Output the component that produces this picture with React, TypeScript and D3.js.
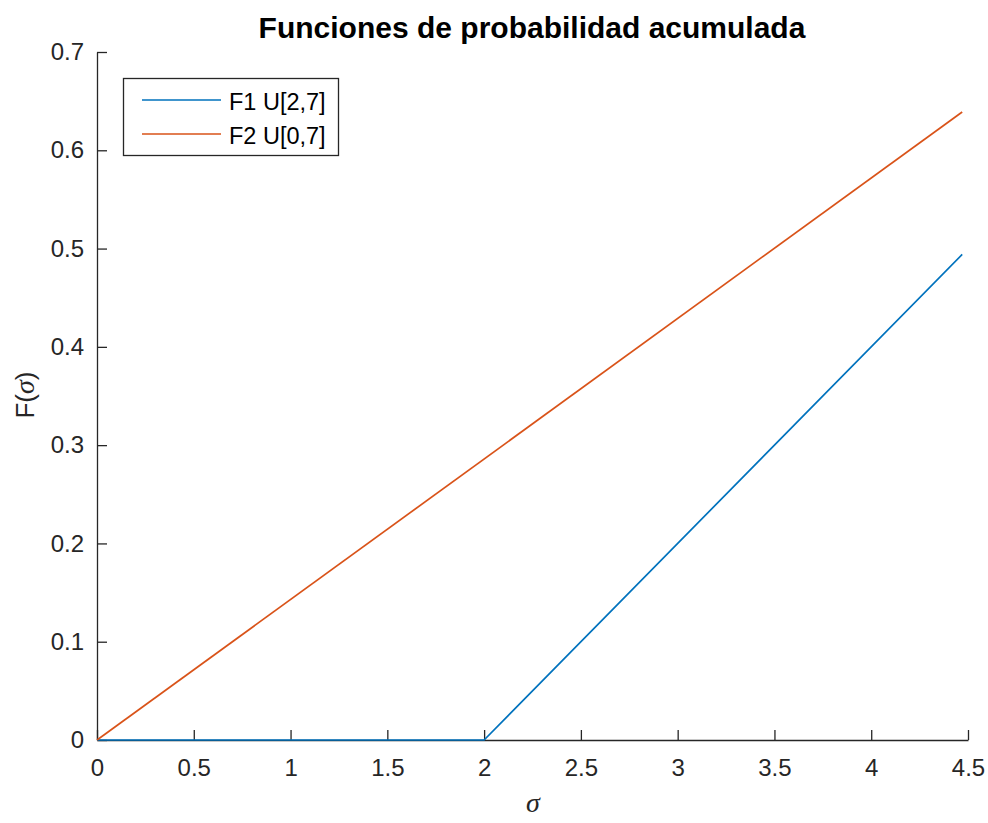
import React, { useEffect, useRef } from 'react';
import * as d3 from 'd3';

// data
const f1X = [0, 2, 4.47];
const f1Y = [0, 0, 0.494];
const f2X = [0, 4.47];
const f2Y = [0, 0.639];
const seriesNames = ['F1 U[2,7]', 'F2 U[0,7]'];
const seriesColors = ['#0072BD', '#D95319'];
const xTicks = [0, 0.5, 1, 1.5, 2, 2.5, 3, 3.5, 4, 4.5];
const yTicks = [0, 0.1, 0.2, 0.3, 0.4, 0.5, 0.6, 0.7];

const W = 988, H = 823;
const FONT = '"Liberation Sans", Arial, Helvetica, sans-serif';
const SERIF = '"Liberation Serif", "Times New Roman", serif';

export default function App() {
  const ref = useRef<SVGSVGElement>(null);

  useEffect(() => {
    const svg = d3.select(ref.current);
    svg.selectAll('*').remove();

    const margin = { top: 52, right: 20, bottom: 83, left: 97 };
    const x = d3.scaleLinear().domain([0, 4.5]).range([margin.left, 968]);
    const y = d3.scaleLinear().domain([0, 0.7]).range([740, margin.top]);
    const axisColor = '#262626';

    // x axis, ticks pointing inward
    const xAxis = d3.axisBottom(x).tickValues(xTicks).tickSizeInner(-10).tickSizeOuter(0)
      .tickPadding(19).tickFormat(d => String(d));
    const gx = svg.append('g').attr('transform', 'translate(0,740)').call(xAxis);
    gx.select('.domain').attr('stroke', axisColor).attr('stroke-width', 1.3);
    gx.selectAll('.tick line').attr('stroke', axisColor).attr('stroke-width', 1.3);
    gx.selectAll('.tick text').attr('fill', axisColor).style('font-family', FONT).style('font-size', '24px');

    const yAxis = d3.axisLeft(y).tickValues(yTicks).tickSizeInner(-10).tickSizeOuter(0)
      .tickPadding(13).tickFormat(d => String(d));
    const gy = svg.append('g').attr('transform', `translate(${margin.left},0)`).call(yAxis);
    gy.select('.domain').attr('stroke', axisColor).attr('stroke-width', 1.3);
    gy.selectAll('.tick line').attr('stroke', axisColor).attr('stroke-width', 1.3);
    gy.selectAll('.tick text').attr('fill', axisColor).style('font-family', FONT).style('font-size', '24px');

    // series
    const line = d3.line<[number, number]>().x(d => x(d[0])).y(d => y(d[1]));
    const series: [number, number][][] = [
      f1X.map((v, i) => [v, f1Y[i]]),
      f2X.map((v, i) => [v, f2Y[i]]),
    ];
    series.forEach((pts, i) => {
      svg.append('path').attr('d', line(pts) as string).attr('fill', 'none')
        .attr('stroke', seriesColors[i]).attr('stroke-width', 1.7);
    });

    // title
    svg.append('text').attr('x', 532).attr('y', 38).attr('text-anchor', 'middle')
      .style('font-family', FONT).style('font-size', '30px').style('font-weight', 'bold')
      .attr('fill', '#000').text('Funciones de probabilidad acumulada');

    // x label
    svg.append('text').attr('x', 533).attr('y', 812).attr('text-anchor', 'middle')
      .style('font-family', SERIF).style('font-style', 'italic')
      .style('font-size', '28px').attr('fill', axisColor).text('σ');

    // y label
    const yl = svg.append('text').attr('transform', 'translate(34,395) rotate(-90)')
      .attr('text-anchor', 'middle').style('font-family', FONT).style('font-size', '26px').attr('fill', axisColor);
    yl.append('tspan').text('F(');
    yl.append('tspan').style('font-family', SERIF).style('font-style', 'italic')
      .style('font-size', '28px').text('σ');
    yl.append('tspan').text(')');

    // legend
    const lg = svg.append('g');
    lg.append('rect').attr('x', 123.5).attr('y', 78.5).attr('width', 215).attr('height', 77)
      .attr('fill', '#fff').attr('stroke', axisColor).attr('stroke-width', 1.3);
    seriesNames.forEach((name, i) => {
      const ly = 100 + i * 34;
      lg.append('line').attr('x1', 142).attr('x2', 221).attr('y1', ly).attr('y2', ly)
        .attr('stroke', seriesColors[i]).attr('stroke-width', 1.7);
      lg.append('text').attr('x', 229).attr('y', ly + 10).style('font-family', FONT)
        .style('font-size', '23.5px').attr('fill', '#000').text(name);
    });
  }, []);

  return (
    <svg ref={ref} width={W} height={H} style={{ position: 'absolute', left: 0, top: 0, background: '#fff' }} />
  );
}
